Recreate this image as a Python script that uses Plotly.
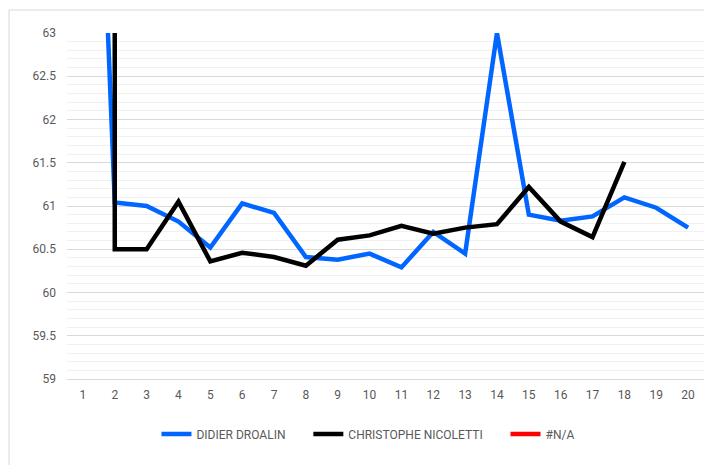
import plotly.graph_objects as go

rounds = list(range(1, 21))
didier = [70.2, 61.04, 61.0, 60.82, 60.52, 61.03, 60.92, 60.41, 60.38, 60.45,
          60.29, 60.70, 60.45, 63.0, 60.90, 60.83, 60.88, 61.10, 60.98, 60.75]
christophe = [2000, 60.50, 60.50, 61.05, 60.36, 60.46, 60.41, 60.31, 60.61, 60.66,
              60.77, 60.68, 60.75, 60.79, 61.22, 60.82, 60.64, 61.51, None, None]
na_series = [None] * 20

pad = "\u00a0" * 6  # extra room between legend entries

fig = go.Figure()
fig.add_trace(go.Scatter(x=rounds, y=didier, mode="lines", name="DIDIER DROALIN" + pad,
                         line=dict(color="#0066ff", width=4.5)))
fig.add_trace(go.Scatter(x=rounds, y=christophe, mode="lines", name="CHRISTOPHE NICOLETTI" + pad,
                         line=dict(color="#000000", width=4.5)))
fig.add_trace(go.Scatter(x=rounds, y=na_series, mode="lines", name="#N/A",
                         line=dict(color="#ff0000", width=4.5)))

# chart frame
fig.add_shape(type="rect", xref="paper", yref="paper",
              x0=-0.091, x1=1.05, y0=-0.3, y1=1.0665,
              line=dict(color="#d9d9d9", width=1), layer="below")

fig.update_layout(
    width=704, height=457,
    margin=dict(l=59, r=8, t=25, b=86),
    paper_bgcolor="white", plot_bgcolor="white",
    font=dict(family="Roboto", size=12, color="#595959"),
    showlegend=True,
    legend=dict(orientation="h", x=0.4725, xanchor="center", y=-0.159, yanchor="middle",
                font=dict(size=12, color="#595959"), itemwidth=30),
    xaxis=dict(range=[0.5, 20.5], tickmode="array", tickvals=rounds,
               showgrid=False, zeroline=False, showline=True, linecolor="#d9d9d9",
               linewidth=1, ticks="", ticklabelstandoff=5,
               tickfont=dict(size=12, color="#595959")),
    yaxis=dict(range=[59, 63], dtick=0.5, showgrid=True, gridcolor="#d9d9d9",
               gridwidth=1, zeroline=False, showline=False, ticks="",
               ticklabelstandoff=10, tickfont=dict(size=12, color="#595959"),
               minor=dict(dtick=0.1, showgrid=True, gridcolor="#f0f0f0", gridwidth=1)),
)

fig.write_html("out.html")
